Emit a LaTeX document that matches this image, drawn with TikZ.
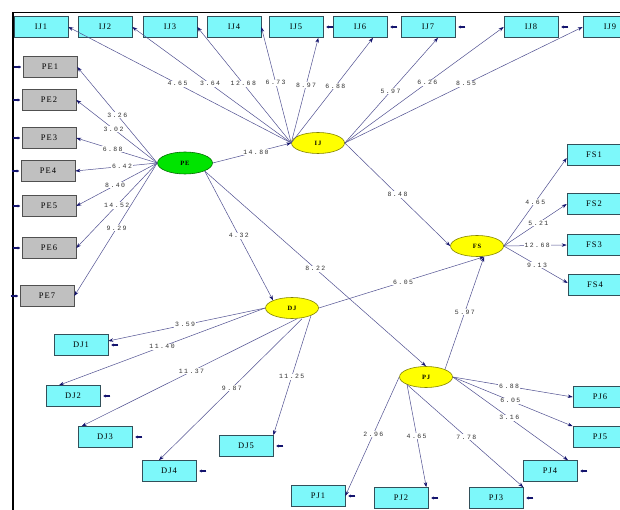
\documentclass[tikz,border=0pt]{standalone}
\usepackage{fontspec}
\setmainfont{Liberation Serif}
\newfontfamily\lblfont[LetterSpace=22]{Liberation Mono}
\newfontfamily\boxfont[LetterSpace=12]{Liberation Serif}
\usetikzlibrary{arrows.meta,shapes.geometric}
\definecolor{cyanfill}{RGB}{125,248,250}
\definecolor{cyanline}{RGB}{50,80,90}
\definecolor{grayfill}{RGB}{192,192,192}
\definecolor{grayline}{RGB}{80,80,80}
\definecolor{yelfill}{RGB}{255,255,0}
\definecolor{yelline}{RGB}{130,130,0}
\definecolor{grnfill}{RGB}{0,228,0}
\definecolor{grnline}{RGB}{0,110,0}
\definecolor{linecol}{RGB}{80,80,145}
\definecolor{tipcol}{RGB}{20,20,110}
\begin{document}
\begin{tikzpicture}[x=1pt,y=-1pt,
  cbox/.style={draw=cyanline, fill=cyanfill, line width=0.6pt, minimum width=54pt, minimum height=21pt, inner sep=0pt, font=\boxfont\fontsize{8.5}{9}\selectfont},
  gbox/.style={draw=grayline, fill=grayfill, line width=0.6pt, minimum width=54pt, minimum height=21pt, inner sep=0pt, font=\boxfont\fontsize{8.5}{9}\selectfont},
  ylat/.style={ellipse, draw=yelline, fill=yelfill, line width=0.6pt, minimum width=53pt, minimum height=21pt, inner sep=0pt, font=\boxfont\fontsize{6.5}{7}\selectfont\bfseries},
  glat/.style={ellipse, draw=grnline, fill=grnfill, line width=0.6pt, minimum width=55pt, minimum height=22pt, inner sep=0pt, font=\boxfont\fontsize{6.5}{7}\selectfont\bfseries},
  ln/.style={draw=linecol, line width=0.5pt, -{Stealth[length=5pt,width=3.5pt,color=tipcol]}},
  lbl/.style={fill=white, inner sep=0.8pt, font=\lblfont\fontsize{6.5}{7}\selectfont, text=black!80},
  err/.style={draw=tipcol, line width=1.1pt, -{Stealth[length=2.5pt,width=3pt]}}
]
\useasboundingbox (0,0) rectangle (620,510);
\fill[white] (0,0) rectangle (620,510);
% frame
\draw[line width=1.4pt] (13,510) -- (13,12.5) -- (620,12.5);

% top row IJ indicators
\node[cbox] (IJ1) at (41,27) {IJ1};
\node[cbox] (IJ2) at (105,27) {IJ2};
\node[cbox] (IJ3) at (170,27) {IJ3};
\node[cbox] (IJ4) at (234,27) {IJ4};
\node[cbox] (IJ5) at (296,27) {IJ5};
\node[cbox] (IJ6) at (360,27) {IJ6};
\node[cbox] (IJ7) at (428,27) {IJ7};
\node[cbox] (IJ8) at (531,27) {IJ8};
\node[cbox] (IJ9) at (610,27) {IJ9};

% PE indicators
\node[gbox] (PE1) at (50,67) {PE1};
\node[gbox] (PE2) at (49,100) {PE2};
\node[gbox] (PE3) at (49,138) {PE3};
\node[gbox] (PE4) at (48,171) {PE4};
\node[gbox] (PE5) at (49,206) {PE5};
\node[gbox] (PE6) at (49,248) {PE6};
\node[gbox] (PE7) at (47,296) {PE7};

% FS indicators
\node[cbox] (FS1) at (594,155) {FS1};
\node[cbox] (FS2) at (594,204) {FS2};
\node[cbox] (FS3) at (594,245) {FS3};
\node[cbox] (FS4) at (595,285) {FS4};

% DJ indicators
\node[cbox] (DJ1) at (81,345) {DJ1};
\node[cbox] (DJ2) at (73,396) {DJ2};
\node[cbox] (DJ3) at (105,437) {DJ3};
\node[cbox] (DJ4) at (169,471) {DJ4};
\node[cbox] (DJ5) at (246,446) {DJ5};

% PJ indicators
\node[cbox] (PJ1) at (318,496) {PJ1};
\node[cbox] (PJ2) at (401,498) {PJ2};
\node[cbox] (PJ3) at (496,498) {PJ3};
\node[cbox] (PJ4) at (550,471) {PJ4};
\node[cbox] (PJ5) at (600,437) {PJ5};
\node[cbox] (PJ6) at (600,397) {PJ6};

% latent variables
\node[glat] (PE) at (185,163) {PE};
\node[ylat] (IJ) at (318,143) {IJ};
\node[ylat] (FS) at (477,246) {FS};
\node[ylat] (DJ) at (292,308) {DJ};
\node[ylat] (PJ) at (426,377) {PJ};

% PE loadings
\draw[ln] (PE.west) -- node[lbl,pos=0.5]{3.26} (PE1.east);
\draw[ln] (PE.west) -- node[lbl,pos=0.54]{3.02} (PE2.east);
\draw[ln] (PE.west) -- node[lbl,pos=0.55]{6.88} (PE3.east);
\draw[ln] (PE.west) -- node[lbl,pos=0.43]{6.42} (PE4.east);
\draw[ln] (PE.west) -- node[lbl,pos=0.52]{8.40} (PE5.east);
\draw[ln] (PE.west) -- node[lbl,pos=0.5]{14.52} (PE6.east);
\draw[ln] (PE.west) -- node[lbl,pos=0.49]{9.29} (PE7.east);

% structural paths
\draw[ln] (PE.east) -- node[lbl,pos=0.55]{14.80} (IJ.west);
\draw[ln] (PE.south east) -- node[lbl,pos=0.5]{4.32} (DJ.north west);
\draw[ln] (PE.south east) -- node[lbl,pos=0.5]{8.22} (PJ.north);
\draw[ln] (IJ.east) -- node[lbl,pos=0.5]{8.48} (FS.west);
\draw[ln] (DJ.east) -- node[lbl,pos=0.51]{6.05} ([xshift=7pt]FS.south);
\draw[ln] (PJ.north east) -- node[lbl,pos=0.51]{5.97} ([xshift=7pt]FS.south);

% IJ loadings
\draw[ln] (IJ.west) -- node[lbl,pos=0.51]{4.65} (IJ1.east);
\draw[ln] (IJ.west) -- node[lbl,pos=0.51]{3.64} (IJ2.east);
\draw[ln] (IJ.west) -- node[lbl,pos=0.51]{12.68} (IJ3.east);
\draw[ln] (IJ.west) -- node[lbl,pos=0.52]{6.73} (IJ4.east);
\draw[ln] (IJ.west) -- node[lbl,pos=0.55]{8.97} ([xshift=-5pt]IJ5.south east);
\draw[ln] (IJ.west) -- node[lbl,pos=0.54]{6.88} ([xshift=13pt]IJ6.south);
\draw[ln] (IJ.east) -- node[lbl,pos=0.49]{5.97} ([xshift=10pt]IJ7.south);
\draw[ln] (IJ.east) -- node[lbl,pos=0.52]{6.26} (IJ8.west);
\draw[ln] (IJ.east) -- node[lbl,pos=0.51]{8.55} (IJ9.west);

% FS loadings
\draw[ln] (FS.east) -- node[lbl,pos=0.5]{4.65} ([yshift=-3pt]FS1.west);
\draw[ln] (FS.east) -- node[lbl,pos=0.55]{5.21} (FS2.west);
\draw[ln] (FS.east) -- node[lbl,pos=0.53]{12.68} (FS3.west);
\draw[ln] (FS.east) -- node[lbl,pos=0.52]{9.13} ([yshift=2pt]FS4.west);

% DJ loadings
\draw[ln] (DJ.west) -- node[lbl,pos=0.51]{3.59} ([yshift=4pt]DJ1.east);
\draw[ln] (DJ.west) -- node[lbl,pos=0.5]{11.40} ([xshift=-14pt]DJ2.north);
\draw[ln] ([xshift=5pt]DJ.south) -- node[lbl,pos=0.49]{11.37} ([xshift=4pt]DJ3.north west);
\draw[ln] ([xshift=10pt]DJ.south) -- node[lbl,pos=0.49]{9.87} ([xshift=-10pt]DJ4.north);
\draw[ln] (DJ.south east) -- node[lbl,pos=0.51]{11.25} (DJ5.north east);

% PJ loadings
\draw[ln] (PJ.east) -- node[lbl,pos=0.47]{6.88} (PJ6.west);
\draw[ln] (PJ.east) -- node[lbl,pos=0.48]{6.05} (PJ5.north west);
\draw[ln] (PJ.east) -- node[lbl,pos=0.49]{3.16} ([xshift=18pt]PJ4.north);
\draw[ln] (PJ.south west) -- node[lbl,pos=0.51]{7.78} (PJ3.north east);
\draw[ln] (PJ.south west) -- node[lbl,pos=0.5]{4.65} ([xshift=-2pt]PJ2.north east);
\draw[ln] (PJ.west) -- node[lbl,pos=0.48]{2.96} (PJ1.east);

% error arrows
\foreach \n in {PE1,PE2,PE3,PE4,PE5,PE6,PE7}
  \draw[err] ([xshift=-9pt]\n.west) -- ([xshift=-1.5pt]\n.west);
\foreach \n in {IJ5,IJ6,IJ7,IJ8,DJ1,DJ2,DJ3,DJ4,DJ5,PJ1,PJ2,PJ3,PJ4}
  \draw[err] ([xshift=10pt]\n.east) -- ([xshift=3pt]\n.east);
\end{tikzpicture}
\end{document}
